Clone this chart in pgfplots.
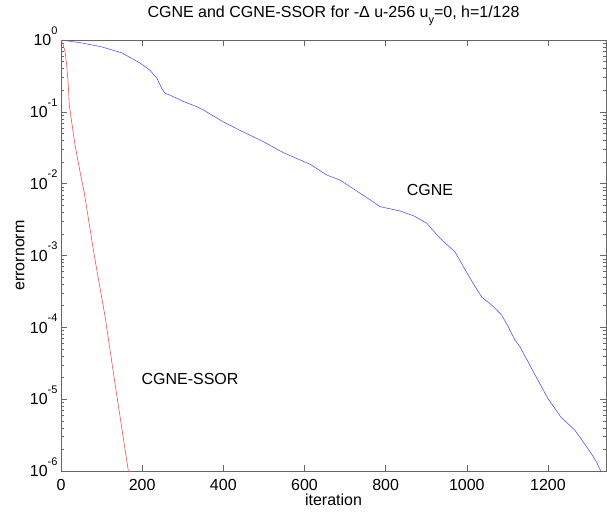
\documentclass[border=0pt]{standalone}
\usepackage{pgfplots}
\pgfplotsset{compat=1.18}
\usepackage{fontspec}
\setmainfont{Liberation Sans}
\newcommand\ex[1]{10\raisebox{11.5pt}{\fontsize{11}{13}\selectfont #1}}
\begin{document}
\begin{tikzpicture}
\useasboundingbox (-61pt,-41pt) rectangle (546pt,471pt);
\begin{axis}[
  at={(0pt,0pt)}, anchor=south west,
  scale only axis, width=545pt, height=431pt,
  ymode=log, xmin=0, xmax=1343, ymin=1e-6, ymax=1,
  axis line style={black!60, line width=0.7pt},
  every tick/.style={black!60, line width=0.5pt},
  major tick length=6pt, minor tick length=3pt,
  tick align=inside,
  xtick={0,200,...,1200},
  ytick={1e-6,1e-5,1e-4,1e-3,1e-2,1e-1,1},
  yticklabels={\ex{-6},\ex{-5},\ex{-4},\ex{-3},\ex{-2},\ex{-1},\ex{0}},
  /pgf/number format/assume math mode=true,
  /pgf/number format/1000 sep={},
  tick label style={font=\fontsize{16}{19}\selectfont},
  xticklabel style={anchor=base, yshift=-19pt},
  yticklabel style={anchor=base east, yshift=-5.75pt, xshift=0pt},
  xlabel={iteration}, ylabel={errornorm},
  label style={font=\fontsize{16}{19}\selectfont},
  xlabel style={at={(axis description cs:0.5,-0.067)}, anchor=center},
  ylabel style={at={(axis description cs:-0.075,0.5)}, anchor=center},
  title={CGNE and CGNE-SSOR for -Δ u-256 u\raisebox{-6pt}{\fontsize{11}{13}\selectfont y}=0, h=1/128},
  title style={font=\fontsize{16}{19}\selectfont, at={(axis description cs:0.5,1.0394)}, anchor=base},
  clip=true,
]
\addplot[blue!70, line width=0.55pt] coordinates {
(0,1) (50,0.912) (100,0.804) (150,0.661) (196,0.473) (219,0.380) (236,0.295)
(248,0.214) (256,0.182) (269,0.170) (300,0.141) (335,0.1175) (351,0.106)
(400,0.0724) (449,0.0525) (499,0.0384) (548,0.0270) (581,0.0224) (614,0.0186)
(655,0.0132) (688,0.0112) (720,0.00851) (755,0.00631) (786,0.00479) (835,0.00417)
(870,0.00355) (901,0.00282) (934,0.00174) (971,0.00112) (996,6.31e-4)
(1016,4.07e-4) (1037,2.63e-4) (1065,1.95e-4) (1086,1.48e-4) (1102,1.02e-4)
(1119,6.61e-5) (1131,5.37e-5) (1166,2.29e-5) (1200,1.02e-5) (1232,5.62e-6)
(1266,3.72e-6) (1290,2.40e-6) (1307,1.74e-6) (1320,1.32e-6) (1330,1e-6) (1336,7.94e-7)
};
\addplot[red!75, line width=0.55pt] coordinates {
(0,1) (5,0.871) (9.9,0.687) (14,0.447) (18,0.234) (20.5,0.1245) (26.3,0.0724)
(34.5,0.0347) (46.8,0.01479) (57.5,0.00741) (67,0.00339) (82,1e-3)
(108.6,1.41e-4) (133,1.66e-5) (166,1e-6) (170,7.08e-7)
};
\node[font=\fontsize{16}{19}\selectfont] at (axis cs:909,8.1e-3) {CGNE};
\node[font=\fontsize{16}{19}\selectfont] at (axis cs:318,1.9e-5) {CGNE-SSOR};
\end{axis}
\end{tikzpicture}
\end{document}
